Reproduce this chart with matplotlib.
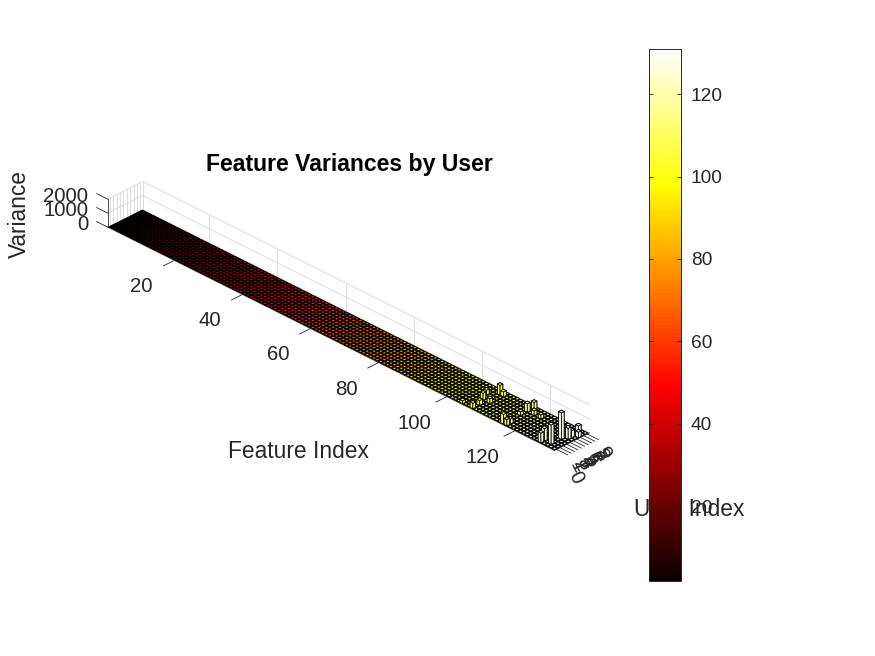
import numpy as np
import matplotlib
matplotlib.use("Agg")
import matplotlib.pyplot as plt
from matplotlib.cm import ScalarMappable
from matplotlib.colors import Normalize

plt.rcParams['font.family'] = ['Liberation Sans', 'DejaVu Sans']

n_features = 131
n_users = 10
feature_ticks = [20, 40, 60, 80, 100, 120]
user_ticks = [1, 2, 3, 4, 5, 6, 7, 8, 9, 10]
user_tick_labels = ['0', '1', '2', '3', '4', '5', '6', '7', '8', '9']
variance_ticks = [0, 1000, 2000]

# Non-zero bars (all other cells sit at about 0)
tall_features = [129, 129, 127, 127, 130, 130, 130, 128, 131, 107, 108, 106, 108, 105, 104, 107, 107,
                 117, 118, 116, 116, 120, 116, 117, 117, 125, 126]
tall_users = [5, 2, 2, 1, 6, 7, 9, 3, 8, 9, 9, 5, 5, 7, 1, 1, 3,
              9, 8, 8, 6, 8, 1, 1, 2, 6, 3]
tall_values = [1900, 1400, 900, 700, 800, 500, 600, 300, 400, 700, 350, 500, 350, 350, 200, 400, 350,
               700, 350, 600, 250, 300, 700, 450, 350, 200, 250]

variance = np.zeros((n_features, n_users))
for f, u, v in zip(tall_features, tall_users, tall_values):
    variance[f - 1, u - 1] = v

W, H = 875, 656
fig = plt.figure(figsize=(W / 100, H / 100), dpi=100)
S = 600
cx, cy = 348.5, 316
left = cx - 0.5135 * S
bottom = (H - cy) - 0.5135 * S
ax = fig.add_axes([left / W, bottom / H, S / W, S / H], projection='3d',
                  proj_type='ortho', computed_zorder=False)
ax.set_zorder(0)
ax.patch.set_alpha(0)
ax.view_init(elev=30, azim=-45)
xlim = (0.4, 131.6)
ylim = (0.35, 10.65)
zlim = (0, 2000)
ax.set_xlim(*xlim, view_margin=0)
ax.set_ylim(*ylim, view_margin=0)
ax.set_zlim(*zlim, view_margin=0)
ax.set_box_aspect((632, 49.6, 32.3), zoom=1.027)
ax.set_axis_off()

GRID = '#dcdcdc'
lw = 0.7
# wall grid
for z in variance_ticks:
    ax.plot([xlim[0], xlim[0]], ylim, [z, z], color=GRID, lw=lw, zorder=1)
    ax.plot(xlim, [ylim[1], ylim[1]], [z, z], color=GRID, lw=lw, zorder=1)
for x in feature_ticks:
    ax.plot([x, x], [ylim[1], ylim[1]], zlim, color=GRID, lw=lw, zorder=1)
for y in user_ticks:
    ax.plot([xlim[0], xlim[0]], [y, y], zlim, color=GRID, lw=lw, zorder=1)
ax.plot([xlim[0]] * 2, [ylim[1]] * 2, zlim, color=GRID, lw=lw, zorder=1)

# bars
w = 0.8
ff, uu = np.meshgrid(np.arange(1, n_features + 1), np.arange(1, n_users + 1), indexing='ij')
ff, uu = ff.ravel(), uu.ravel()
vv = variance.ravel()
cmap = plt.get_cmap('hot', n_features)
cols = cmap((ff - 1) / (n_features - 1))
ax.bar3d(ff - w / 2, uu - w / 2, np.zeros_like(vv), w, w, vv, color=cols, shade=False,
         edgecolor='black', linewidth=0.6, zorder=2)

AX = '#262626'
FS = 14.7
# box lines and ticks
ax.plot(xlim, [ylim[0]] * 2, [0, 0], color=AX, lw=0.6, zorder=3)
ax.plot([xlim[1]] * 2, ylim, [0, 0], color=AX, lw=0.6, zorder=3)
ax.plot([xlim[0]] * 2, [ylim[0]] * 2, zlim, color=AX, lw=0.6, zorder=3)
for x in feature_ticks:
    ax.plot([x, x], [ylim[0], ylim[0] - 3.2], [0, 0], color=AX, lw=0.6, zorder=3)
    ax.text(x, ylim[0] - 9.6, -720, str(x), ha='center', va='center', fontsize=FS, color=AX, zorder=4)
for y, lab in zip(user_ticks, user_tick_labels):
    ax.plot([xlim[1], xlim[1] + 3.2], [y, y], [0, 0], color=AX, lw=0.6, zorder=3)
    if lab == '0':
        px, pz = xlim[1] + 5.55, -1320
    else:
        px, pz = xlim[1] + 4.9, -780
    ax.text(px, y, pz, lab, zdir=(0, 1, -600), ha='center', va='center',
            fontsize=FS, color=AX, zorder=4)
for z in variance_ticks:
    ax.plot([xlim[0], xlim[0] - 3.2], [ylim[0]] * 2, [z, z], color=AX, lw=0.6, zorder=3)
    ax.text(xlim[0] - 5.6, ylim[0], z - 500, str(z), ha='right', va='center', fontsize=FS, color=AX, zorder=4)

# labels
fig.text(349 / W, 1 - 165 / H, 'Feature Variances by User', ha='center', va='center',
         fontsize=16.6, fontweight='bold', color='black', zorder=1)
fig.text(298 / W, 1 - 451 / H, 'Feature Index', ha='center', va='center', fontsize=16.4, color=AX, zorder=1)
fig.text(19 / W, 1 - 214 / H, 'Variance', ha='center', va='center', rotation=90, fontsize=16.4, color=AX, zorder=1)
fig.text(689.5 / W, 1 - 510 / H, 'User Index', ha='center', va='center', fontsize=16.4, color=AX, zorder=1)

# colorbar
cax = fig.add_axes([649 / W, 1 - 581 / H, 32 / W, 532 / H])
cax.set_zorder(5)
sm = ScalarMappable(norm=Normalize(1.8, 131), cmap=cmap)
cb = fig.colorbar(sm, cax=cax)
cb.set_ticks([20, 40, 60, 80, 100, 120])
cax.tick_params(direction='in', length=3, width=0.6, labelsize=13.8, colors=AX, right=True, left=True, pad=7)
cb.outline.set_linewidth(0.7)
cb.outline.set_edgecolor(AX)

fig.savefig('out.png', dpi=100, facecolor='white')
